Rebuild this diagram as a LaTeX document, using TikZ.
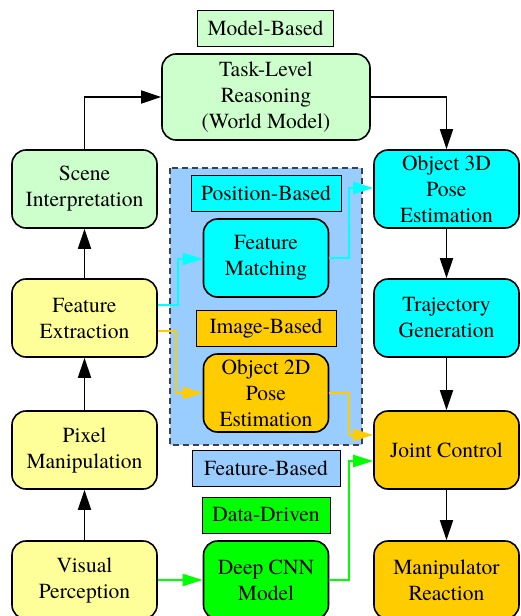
\documentclass[tikz,border=0pt]{standalone}
\usepackage{fontspec}
\setmainfont{texgyretermes}[Extension=.otf, UprightFont=*-regular, BoldFont=*-bold]
\usepackage{xcolor}
\usetikzlibrary{arrows.meta}

\definecolor{lgreen}{HTML}{CCFFCC}
\definecolor{lyellow}{HTML}{FFFF99}
\definecolor{mcyan}{HTML}{00FFFF}
\definecolor{morange}{HTML}{FFCC00}
\definecolor{mgreen}{HTML}{00FF00}
\definecolor{lblue}{HTML}{99CCFF}
\definecolor{dgray}{HTML}{404048}

\begin{document}
\begin{tikzpicture}
[
x=1pt, y=-1pt,
font=\rmfamily\fontsize{21.5}{26}\selectfont,
mybox/.style={rectangle, draw=black, line width=1.6pt, rounded corners=14pt, align=center, inner sep=0pt, minimum width=145pt, minimum height=78pt},
midbox/.style={mybox, minimum width=125pt},
lbl/.style={rectangle, draw=black, line width=0.8pt, inner sep=0pt, minimum height=36pt},
blk/.style={-{Triangle[length=20pt,width=13pt]}, line width=1.6pt},
col/.style={-{Triangle[length=20pt,width=12pt]}, line width=2.2pt, draw=#1},
]
\useasboundingbox (0,0) rectangle (520,616);

% dashed region
\draw[fill=lblue, draw=dgray, line width=1.2pt, dash pattern=on 6pt off 4pt] (170,168) rectangle (362,445);

\node at (265.5,28) [lbl, fill=lgreen, minimum width=136pt]     (modellbl)   {Model-Based};
\node at (266,97)   [mybox, fill=lgreen, minimum width=208pt, minimum height=86pt] (task) {Task-Level\\Reasoning\\(World Model)};

\node at (84.5,189) [mybox, fill=lgreen]      (scene)     {Scene\\Interpretation};
\node at (84.5,318) [mybox, fill=lyellow]     (featext)   {Feature\\Extraction};
\node at (84.5,450) [mybox, fill=lyellow]     (pixel)     {Pixel\\Manipulation};
\node at (84.5,580) [mybox, fill=lyellow]     (visual)    {Visual\\Perception};

\node at (446.5,189) [mybox, fill=mcyan]      (obj3d)     {Object 3D\\Pose\\Estimation};
\node at (446.5,318) [mybox, fill=mcyan]      (traj)      {Trajectory\\Generation};
\node at (446.5,450) [mybox, fill=morange]    (joint)     {Joint Control};
\node at (446.5,580) [mybox, fill=morange]    (manip)     {Manipulator\\Reaction};

\node at (266,193.5) [lbl, fill=mcyan, minimum width=150pt]   (poslbl)    {Position-Based};
\node at (266,258)   [midbox, fill=mcyan]                     (featmatch) {Feature\\Matching};
\node at (266,328)   [lbl, fill=morange, minimum width=140pt] (imglbl)    {Image-Based};
\node at (266,393)   [midbox, fill=morange]                   (obj2d)     {Object 2D\\Pose\\Estimation};
\node at (266,468)   [lbl, fill=lblue, minimum width=148pt]   (featlbl)   {Feature-Based};
\node at (266,515)   [lbl, fill=mgreen, minimum width=128pt]  (datalbl)   {Data-Driven};
\node at (266,580)   [midbox, fill=mgreen]                    (cnn)       {Deep CNN\\Model};

\draw[blk] (visual) -- (pixel);
\draw[blk] (pixel) -- (featext);
\draw[blk] (featext) -- (scene);
\draw[blk] (scene.north) |- (task.west);
\draw[blk] (task.east) -| (obj3d.north);
\draw[blk] (obj3d) -- (traj);
\draw[blk] (traj) -- (joint);
\draw[blk] (joint) -- (manip);

\draw[col=mcyan] ([yshift=13pt]featext.east) -- ++(20,0) |- ([yshift=-1pt]featmatch.west);
\draw[col=mcyan] (featmatch.east) -- ++(20,0) |- ([yshift=1pt]obj3d.west);
\draw[col=morange] ([yshift=-13pt]featext.east) -- ++(18,0) |- (obj2d.west);
\draw[col=morange] (obj2d.east) -- ++(20,0) |- ([yshift=15pt]joint.west);
\draw[col=mgreen] (visual.east) -- (cnn.west);
\draw[col=mgreen] (cnn.east) -- ++(20,0) |- ([yshift=-11pt]joint.west);
\end{tikzpicture}
\end{document}
